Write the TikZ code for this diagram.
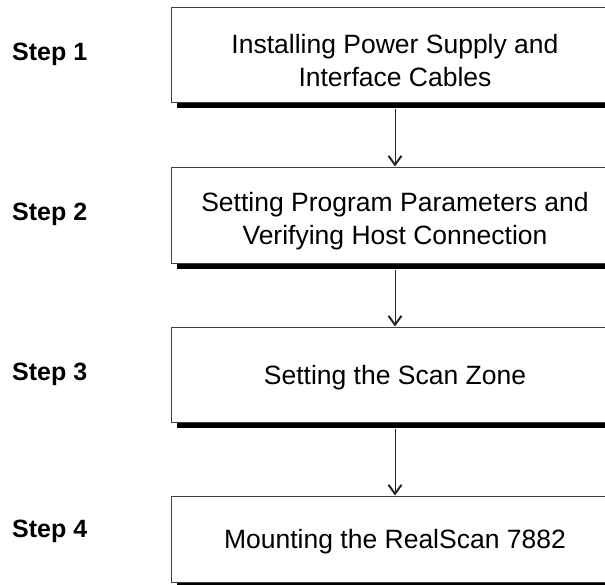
\documentclass[tikz,border=0pt]{standalone}
\usepackage{fontspec}
\setmainfont{Liberation Sans}
\usetikzlibrary{arrows.meta,shadows}
\newcommand\lowertext[2]{\raisebox{-#1}[\height][\depth]{\begin{tabular}{@{}c@{}}#2\end{tabular}}}
\begin{document}
\begin{tikzpicture}[x=1pt,y=-1pt,
  stepbox/.style={draw=black!75, line width=1pt, fill=white, rectangle,
    minimum width=448pt, inner sep=0pt, align=center,
    font=\fontsize{26.5}{33}\selectfont,
    drop shadow={shadow xshift=6pt, shadow yshift=-6pt, fill=black, opacity=1}},
  steplabel/.style={anchor=west, inner sep=0pt, font=\fontsize{25}{30}\selectfont\bfseries},
  flow/.style={draw=black!85, line width=1pt, -{Straight Barb[length=9pt,width=13pt,line width=2pt]}}
]
\useasboundingbox (0,0) rectangle (605,584);
\clip (0,0) rectangle (605,584);
\node[stepbox, minimum height=95pt] (b1) at (395,54.5) {\lowertext{9pt}{Installing Power Supply and\\Interface Cables}};
\node[stepbox, minimum height=96pt] (b2) at (395,215) {\lowertext{6pt}{Setting Program Parameters and\\Verifying Host Connection}};
\node[stepbox, minimum height=95pt] (b3) at (395,374.5) {\lowertext{3pt}{Setting the Scan Zone}};
\node[stepbox, minimum height=86pt] (b4) at (395,539) {\lowertext{3pt}{Mounting the RealScan 7882}};
\node[steplabel] (s1) at (12,54.5) {Step 1};
\node[steplabel] (s2) at (12,214) {Step 2};
\node[steplabel] (s3) at (12,374) {Step 3};
\node[steplabel] (s4) at (12,531) {Step 4};
\draw[flow] ([yshift=-6pt]b1.south) -- (b2.north);
\draw[flow] ([yshift=-6pt]b2.south) -- (b3.north);
\draw[flow] ([yshift=-6pt]b3.south) -- (b4.north);
\end{tikzpicture}
\end{document}
